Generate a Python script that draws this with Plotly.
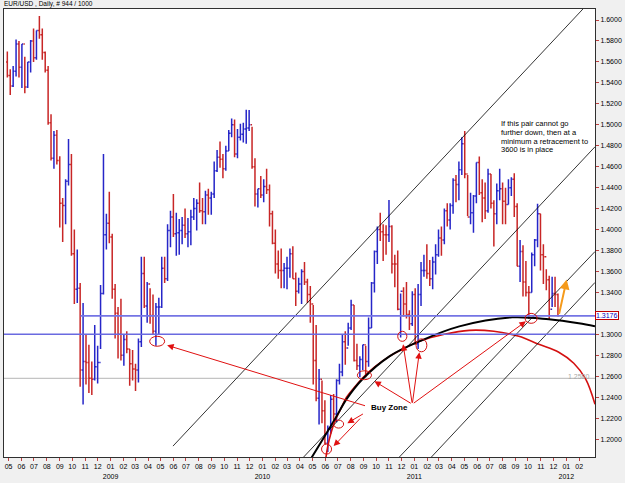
import pandas as pd
import plotly.graph_objects as go

# ---------------- data (weekly EUR/USD) ----------------
week_start = "2008-04-28"
first_open = 1.5600
highs = [
    # 2008
    1.5700, 1.5530, 1.5560, 1.5815, 1.5800, 1.5770, 1.5650, 1.5600, 1.5810, 1.5920,
    1.5900, 1.6038, 1.5920, 1.5700, 1.5560, 1.5100, 1.4940, 1.4950, 1.4700, 1.4300,
    1.4480, 1.4865, 1.4720, 1.4000, 1.3810, 1.3490, 1.3300, 1.3000, 1.2900, 1.2740,
    1.3090, 1.2890, 1.3470, 1.4720, 1.4150, 1.4360,
    # 2009
    1.3960, 1.3480, 1.3260, 1.3340, 1.3000, 1.3030, 1.2860, 1.2850, 1.2720, 1.2960,
    1.3740, 1.3740, 1.3500, 1.3440, 1.3380, 1.3300, 1.3350, 1.3740, 1.3740, 1.4050,
    1.4180, 1.4340, 1.4160, 1.4100, 1.4120, 1.4200, 1.4110, 1.4190, 1.4300, 1.4290,
    1.4450, 1.4300, 1.4370, 1.4390, 1.4360, 1.4650, 1.4760, 1.4840, 1.4720, 1.4800,
    1.4950, 1.5060, 1.5050, 1.4960, 1.5010, 1.5020, 1.5144, 1.5140, 1.4980, 1.4680,
    1.4390, 1.4510,
    # 2010
    1.4480, 1.4580, 1.4430, 1.4180, 1.4000, 1.3800, 1.3820, 1.3680, 1.3740, 1.3820,
    1.3840, 1.3590, 1.3540, 1.3620, 1.3690, 1.3530, 1.3460, 1.3280, 1.3090, 1.2670,
    1.2560, 1.2370, 1.2130, 1.2420, 1.2430, 1.2570, 1.2720, 1.3000, 1.3030, 1.3110,
    1.3330, 1.3280, 1.2910, 1.2790, 1.2900, 1.2890, 1.3160, 1.3500, 1.3800, 1.4030,
    1.4160, 1.4050, 1.4040, 1.4282, 1.4040, 1.3760, 1.3800, 1.3390, 1.3450, 1.3500,
    1.3230, 1.3410,
    # 2011
    1.3440, 1.3480, 1.3690, 1.3760, 1.3860, 1.3710, 1.3740, 1.3860, 1.4000, 1.4030,
    1.4200, 1.4250, 1.4250, 1.4490, 1.4520, 1.4650, 1.4880, 1.4940, 1.4520, 1.4350,
    1.4330, 1.4640, 1.4698, 1.4480, 1.4450, 1.4580, 1.4530, 1.4280, 1.4440, 1.4580,
    1.4450, 1.4400, 1.4480, 1.4500, 1.4537, 1.4250, 1.3900, 1.3850, 1.3700, 1.3460,
    1.3780, 1.3910, 1.4247, 1.4150, 1.3860, 1.3620, 1.3560, 1.3550, 1.3550, 1.3390,
]
lows = [
    # 2008
    1.5450, 1.5285, 1.5360, 1.5460, 1.5450, 1.5350, 1.5300, 1.5350, 1.5500, 1.5600,
    1.5620, 1.5820, 1.5620, 1.5500, 1.5000, 1.4660, 1.4580, 1.4620, 1.4020, 1.3880,
    1.4050, 1.4420, 1.3750, 1.3290, 1.3300, 1.2500, 1.2330, 1.2520, 1.2440, 1.2420,
    1.2560, 1.2530, 1.2860, 1.3380, 1.3810, 1.3870,
    # 2009
    1.3340, 1.2960, 1.2770, 1.2750, 1.2700, 1.2820, 1.2510, 1.2560, 1.2460, 1.2540,
    1.2880, 1.3250, 1.3110, 1.3100, 1.3000, 1.2890, 1.3000, 1.3250, 1.3490, 1.3510,
    1.3830, 1.3930, 1.3750, 1.3760, 1.3860, 1.3920, 1.3830, 1.3850, 1.4090, 1.3990,
    1.4160, 1.4050, 1.4050, 1.4140, 1.4140, 1.4300, 1.4550, 1.4590, 1.4490, 1.4560,
    1.4750, 1.4880, 1.4690, 1.4680, 1.4850, 1.4830, 1.4820, 1.4940, 1.4580, 1.4220,
    1.4210, 1.4300,
    # 2010
    1.4260, 1.4340, 1.4030, 1.3860, 1.3580, 1.3530, 1.3440, 1.3440, 1.3430, 1.3540,
    1.3530, 1.3270, 1.3390, 1.3290, 1.3470, 1.3300, 1.3110, 1.2520, 1.2360, 1.2140,
    1.2150, 1.1950, 1.1876, 1.2050, 1.2160, 1.2160, 1.2520, 1.2600, 1.2710, 1.2890,
    1.3040, 1.2740, 1.2660, 1.2590, 1.2660, 1.2590, 1.2690, 1.3060, 1.3400, 1.3670,
    1.3890, 1.3700, 1.3760, 1.3880, 1.3580, 1.3450, 1.3230, 1.2969, 1.3170, 1.3150,
    1.3040, 1.3080,
    # 2011
    1.2900, 1.2860, 1.3270, 1.3550, 1.3530, 1.3460, 1.3430, 1.3570, 1.3740, 1.3750,
    1.3860, 1.4030, 1.4000, 1.4150, 1.4260, 1.4280, 1.4520, 1.4490, 1.4130, 1.4050,
    1.3970, 1.4250, 1.4330, 1.4070, 1.4100, 1.4160, 1.4200, 1.3837, 1.4050, 1.4280,
    1.4050, 1.4050, 1.4240, 1.4320, 1.4120, 1.3650, 1.3500, 1.3360, 1.3360, 1.3146,
    1.3400, 1.3650, 1.3830, 1.3610, 1.3480, 1.3420, 1.3146, 1.3260, 1.3260, 1.3170,
]
closes = [
    # 2008
    1.5470, 1.5370, 1.5510, 1.5770, 1.5550, 1.5770, 1.5360, 1.5600, 1.5800, 1.5640,
    1.5900, 1.5860, 1.5690, 1.5520, 1.5020, 1.4680, 1.4900, 1.4660, 1.4250, 1.4230,
    1.4460, 1.4620, 1.3770, 1.3430, 1.3440, 1.2660, 1.2740, 1.2730, 1.2580, 1.2570,
    1.2690, 1.2730, 1.3390, 1.3950, 1.4060, 1.3930,
    # 2009
    1.3430, 1.3200, 1.3000, 1.2800, 1.2950, 1.2860, 1.2720, 1.2670, 1.2660, 1.2930,
    1.3580, 1.3270, 1.3480, 1.3180, 1.3030, 1.3260, 1.3260, 1.3630, 1.3530, 1.3990,
    1.4120, 1.3960, 1.3970, 1.3990, 1.4040, 1.3960, 1.3980, 1.4120, 1.4200, 1.4250,
    1.4180, 1.4170, 1.4330, 1.4300, 1.4340, 1.4560, 1.4690, 1.4670, 1.4580, 1.4750,
    1.4920, 1.5000, 1.4720, 1.4880, 1.4910, 1.4960, 1.4970, 1.5000, 1.4600, 1.4340,
    1.4390, 1.4330,
    # 2010
    1.4410, 1.4380, 1.4150, 1.3870, 1.3670, 1.3610, 1.3610, 1.3630, 1.3630, 1.3770,
    1.3530, 1.3410, 1.3480, 1.3600, 1.3500, 1.3380, 1.3290, 1.2750, 1.2390, 1.2570,
    1.2270, 1.1960, 1.2100, 1.2380, 1.2240, 1.2560, 1.2640, 1.2930, 1.2870, 1.3060,
    1.3280, 1.2750, 1.2700, 1.2760, 1.2900, 1.2740, 1.3060, 1.3490, 1.3790, 1.4000,
    1.3980, 1.3950, 1.3950, 1.4030, 1.3670, 1.3670, 1.3240, 1.3410, 1.3290, 1.3190,
    1.3100, 1.3380,
    # 2011
    1.2910, 1.3380, 1.3610, 1.3610, 1.3580, 1.3530, 1.3690, 1.3760, 1.3920, 1.3900,
    1.4180, 1.4090, 1.4230, 1.4470, 1.4430, 1.4570, 1.4820, 1.4530, 1.4120, 1.4160,
    1.4320, 1.4640, 1.4350, 1.4300, 1.4180, 1.4530, 1.4250, 1.4150, 1.4370, 1.4390,
    1.4270, 1.4240, 1.4400, 1.4480, 1.4220, 1.3650, 1.3790, 1.3500, 1.3400, 1.3400,
    1.3760, 1.3900, 1.4150, 1.3760, 1.3740, 1.3520, 1.3240, 1.3390, 1.3380, 1.3176,
]

month_ticks_start = "2008-05-01"
month_ticks_end = "2012-02-01"
y_tick_values = [1.20, 1.22, 1.24, 1.26, 1.28, 1.30, 1.34, 1.36, 1.38, 1.40, 1.42,
                 1.44, 1.46, 1.48, 1.50, 1.52, 1.54, 1.56, 1.58, 1.60]
current_price = 1.3176
support_level = 1.3000
gray_level = 1.2580

# drawn objects (data coordinates)
channel_lines = [
    ("2009-05-31", 1.1933, "2012-02-10", 1.6105),
    ("2010-04-10", 1.1829, "2012-03-10", 1.4790),
    ("2010-11-26", 1.1829, "2012-03-10", 1.3790),
    ("2011-02-11", 1.1829, "2012-03-10", 1.3495),
]
black_arc_dates = ["2010-04-27", "2010-06-24", "2010-07-22", "2010-08-29", "2010-11-02",
                   "2011-01-13", "2011-04-19", "2011-08-24", "2011-11-20", "2012-01-31",
                   "2012-03-10"]
black_arc_prices = [1.1810, 1.2190, 1.2381, 1.2571, 1.2790, 1.2933, 1.3076, 1.3162,
                    1.3143, 1.3105, 1.3076]
red_arc_dates = ["2010-06-02", "2010-06-07", "2010-06-14", "2010-06-24", "2010-07-08",
                 "2010-07-22", "2010-08-10", "2010-08-29", "2010-09-27", "2010-11-02",
                 "2010-12-08", "2011-01-13", "2011-03-14", "2011-05-13", "2011-07-11",
                 "2011-09-09", "2011-10-27", "2011-12-14", "2012-01-19", "2012-02-17",
                 "2012-03-10"]
red_arc_prices = [1.1810, 1.1933, 1.2048, 1.2171, 1.2286, 1.2400, 1.2495, 1.2581,
                  1.2686, 1.2790, 1.2867, 1.2933, 1.3000, 1.3038, 1.3029, 1.2981,
                  1.2905, 1.2829, 1.2724, 1.2571, 1.2333]
circles = [
    ("2009-04-05", "2009-05-11", 1.2981, 1.2886),
    ("2010-05-23", "2010-06-16", 1.1952, 1.1857),
    ("2010-06-21", "2010-07-15", 1.2181, 1.2105),
    ("2010-08-17", "2010-09-20", 1.2652, 1.2567),
    ("2010-11-22", "2010-12-14", 1.3029, 1.2933),
    ("2011-01-05", "2011-01-31", 1.2957, 1.2833),
    ("2011-09-24", "2011-10-23", 1.3200, 1.3105),
]
# (tail date, tail price, head date, head price)
red_arrows = [
    ("2010-09-08", 1.2314, "2009-05-17", 1.2895),
    ("2010-09-03", 1.2248, "2010-07-24", 1.2152),
    ("2010-08-27", 1.2210, "2010-06-21", 1.1933),
    ("2010-12-27", 1.2333, "2010-09-27", 1.2552),
    ("2010-12-27", 1.2333, "2010-12-05", 1.2905),
    ("2010-12-27", 1.2333, "2011-01-13", 1.2829),
    ("2010-12-27", 1.2333, "2011-09-26", 1.3124),
]
orange_arrow = ("2011-12-14", 1.3181, "2012-01-02", 1.3524)
buy_zone_pos = ("2010-09-13", 1.2305)
note_lines = ["If this pair cannot go", "further down, then at a",
              "minimum a retracement to", "3600 is in place"]
note_x = "2011-07-24"
note_y = [1.5010, 1.4927, 1.4845, 1.4762]

x_range = ["2008-04-20", "2012-03-10"]
y_range = [1.1829, 1.6105]

# ---------------- figure ----------------
dates = pd.date_range(week_start, periods=len(closes), freq="W-MON")
opens = [first_open] + closes[:-1]

FONT = "Liberation Sans, Arial, sans-serif"
fig = go.Figure()
fig.add_trace(go.Ohlc(
    x=dates, open=opens, high=highs, low=lows, close=closes,
    increasing=dict(line=dict(color="#2626c8", width=1.5)),
    decreasing=dict(line=dict(color="#c82626", width=1.5)),
    tickwidth=0.45, hoverinfo="skip", showlegend=False,
))

fig.add_trace(go.Scatter(x=red_arc_dates, y=red_arc_prices, mode="lines",
                         line=dict(color="#d41010", width=1.6, shape="spline", smoothing=1.0),
                         hoverinfo="skip", showlegend=False))
fig.add_trace(go.Scatter(x=black_arc_dates, y=black_arc_prices, mode="lines",
                         line=dict(color="#000000", width=2, shape="spline", smoothing=1.0),
                         hoverinfo="skip", showlegend=False))

shapes = []
for x0, y0, x1, y1 in channel_lines:
    shapes.append(dict(type="line", xref="x", yref="y", x0=x0, y0=y0, x1=x1, y1=y1,
                       line=dict(color="#000000", width=0.8), layer="above"))
shapes.append(dict(type="line", xref="x", yref="y", x0="2008-10-21", x1=x_range[1],
                   y0=current_price, y1=current_price,
                   line=dict(color="#7474e4", width=1.6), layer="above"))
shapes.append(dict(type="line", xref="paper", yref="y", x0=0, x1=1,
                   y0=support_level, y1=support_level,
                   line=dict(color="#6a6ae0", width=1.4), layer="above"))
shapes.append(dict(type="line", xref="paper", yref="y", x0=0, x1=1,
                   y0=gray_level, y1=gray_level,
                   line=dict(color="#c4c4c4", width=1.2), layer="below"))
for x0, x1, y0, y1 in circles:
    shapes.append(dict(type="circle", xref="x", yref="y", x0=x0, x1=x1, y0=y0, y1=y1,
                       line=dict(color="#d41010", width=1), layer="above"))

annotations = []
for tx, ty, hx, hy in red_arrows:
    annotations.append(dict(x=hx, y=hy, ax=tx, ay=ty, xref="x", yref="y",
                            axref="x", ayref="y", showarrow=True, text="",
                            arrowhead=2, arrowsize=1.3, arrowwidth=1,
                            arrowcolor="#e01010", standoff=0))
tx, ty, hx, hy = orange_arrow
annotations.append(dict(x=hx, y=hy, ax=tx, ay=ty, xref="x", yref="y",
                        axref="x", ayref="y", showarrow=True, text="",
                        arrowhead=2, arrowsize=1, arrowwidth=2,
                        arrowcolor="#f59a1a", standoff=0))
annotations.append(dict(x=buy_zone_pos[0], y=buy_zone_pos[1], xref="x", yref="y",
                        text="<b>Buy Zone</b>", showarrow=False, xanchor="left",
                        yanchor="middle", font=dict(family=FONT, size=8, color="#000000")))
for line, yy in zip(note_lines, note_y):
    annotations.append(dict(x=note_x, y=yy, xref="x", yref="y", text=line,
                            showarrow=False, xanchor="left", yanchor="middle",
                            font=dict(family=FONT, size=7.5, color="#000000")))
annotations.append(dict(x=0, y=1, xref="paper", yref="paper", xanchor="left",
                        yanchor="bottom", xshift=-2, yshift=-1,
                        text="EUR/USD , Daily, # 944 / 1000", showarrow=False,
                        font=dict(family=FONT, size=6.5, color="#000000")))
annotations.append(dict(x=1, y=current_price, xref="paper", yref="y", xanchor="left",
                        yanchor="middle", text=f"{current_price:.4f}", showarrow=False,
                        bgcolor="#ffffff", bordercolor="#c00000", borderwidth=1,
                        borderpad=0, font=dict(family=FONT, size=7, color="#0000c0")))
annotations.append(dict(x=1, y=gray_level, xref="paper", yref="y", xanchor="right",
                        yanchor="middle", xshift=-3, yshift=2, text=f"{gray_level:.4f}",
                        showarrow=False, font=dict(family=FONT, size=7, color="#a8a8a8")))

month_dates = pd.date_range(month_ticks_start, month_ticks_end, freq="MS")
month_text = [d.strftime("%m") + (f"<br>{d.year}" if d.month == 1 else "")
              for d in month_dates]

fig.update_layout(
    width=625, height=483,
    margin=dict(l=3, r=29, t=9, b=25),
    paper_bgcolor="#f0f0f0", plot_bgcolor="#ffffff",
    showlegend=False, shapes=shapes, annotations=annotations,
    font=dict(family=FONT, size=7, color="#000000"),
)
fig.update_xaxes(
    type="date", range=x_range, tickvals=month_dates, ticktext=month_text,
    ticks="outside", ticklen=3, tickcolor="#c04040", showgrid=False, zeroline=False,
    showline=True, mirror=True, linecolor="#303030", linewidth=1,
    tickfont=dict(family=FONT, size=7, color="#000000"),
    rangeslider=dict(visible=False), tickangle=0,
)
fig.update_yaxes(
    side="right", range=y_range, tickvals=y_tick_values,
    ticktext=[f"{v:.4f}" for v in y_tick_values],
    ticks="outside", ticklen=3, tickcolor="#c04040", showgrid=False, zeroline=False,
    showline=True, mirror=True, linecolor="#303030", linewidth=1,
    tickfont=dict(family=FONT, size=7, color="#000000"),
)

fig.write_html("out.html")
